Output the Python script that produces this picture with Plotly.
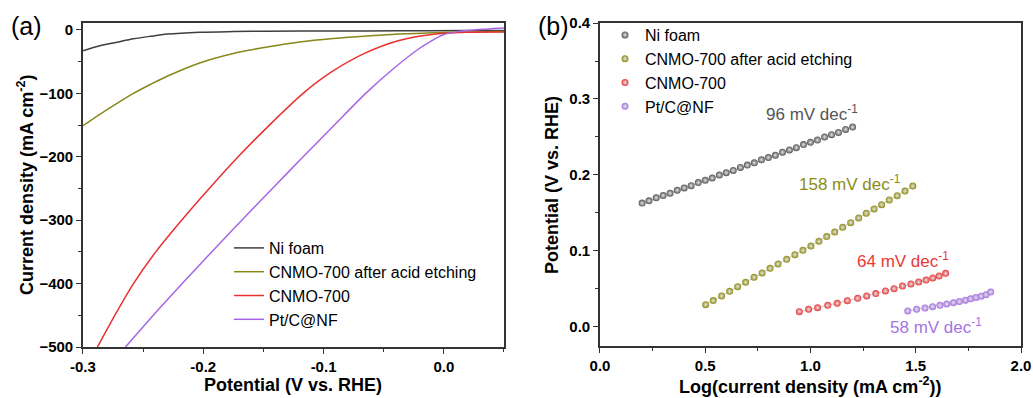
import plotly.graph_objects as go

FONT = "Arial, Liberation Sans, sans-serif"

# ---------------- Panel (a): LSV curves ----------------
ni_v = [-0.300, -0.286, -0.272, -0.258, -0.244, -0.230, -0.203, -0.175, -0.147, -0.092, -0.037, 0.018, 0.050]
ni_j = [-33, -25, -19.5, -14, -10, -6.5, -3.5, -2.5, -2.0, -1.6, -1.3, -1.0, -0.8]

etch_v = [-0.300, -0.286, -0.272, -0.258, -0.244, -0.230, -0.203, -0.175, -0.147, -0.120, -0.092, -0.064, -0.037, -0.009, 0.018, 0.050]
etch_j = [-151, -133, -116, -100, -86, -73, -52, -37, -27, -19, -13.5, -9.5, -6.5, -4.5, -3.2, -2.5]

cnmo_v = [-0.288, -0.2735, -0.258, -0.2395, -0.218, -0.195, -0.171, -0.145, -0.117, -0.094, -0.066, -0.038, -0.010, 0.018, 0.050]
cnmo_j = [-500, -450, -400, -350, -300, -250, -200, -150, -100, -67, -37, -17, -7, -3.5, -3]

pt_v = [-0.2646, -0.2415, -0.2175, -0.193, -0.168, -0.1425, -0.117, -0.091, -0.065, -0.040, -0.021, -0.011, -0.001, 0.010, 0.025, 0.050]
pt_j = [-500, -450, -400, -350, -300, -250, -200, -150, -100, -58, -30, -18, -8, -3, 0, 3]

# ---------------- Panel (b): Tafel plots ----------------
ni_logj = [0.200, 0.233, 0.267, 0.300, 0.333, 0.367, 0.400, 0.433, 0.467, 0.500, 0.533, 0.567, 0.600, 0.633,
           0.667, 0.700, 0.733, 0.767, 0.800, 0.833, 0.867, 0.900, 0.933, 0.967, 1.000, 1.033, 1.067, 1.100,
           1.133, 1.167, 1.200]
ni_eta = [0.163, 0.166, 0.170, 0.173, 0.176, 0.180, 0.183, 0.186, 0.190, 0.193, 0.196, 0.200, 0.203, 0.206,
          0.210, 0.213, 0.216, 0.220, 0.223, 0.226, 0.230, 0.233, 0.236, 0.240, 0.243, 0.246, 0.250, 0.253,
          0.256, 0.260, 0.263]

etch_logj = [0.502, 0.538, 0.578, 0.616, 0.654, 0.692, 0.732, 0.770, 0.808, 0.846, 0.887, 0.926, 0.964, 1.002,
             1.040, 1.077, 1.115, 1.153, 1.191, 1.229, 1.265, 1.302, 1.338, 1.374, 1.412, 1.449, 1.486]
etch_eta = [0.0294, 0.0347, 0.0408, 0.0469, 0.0531, 0.0588, 0.0654, 0.0711, 0.0772, 0.0829, 0.0890, 0.0952,
            0.1009, 0.1066, 0.1127, 0.1189, 0.1250, 0.1311, 0.1373, 0.1434, 0.1496, 0.1553, 0.1610, 0.1671,
            0.1728, 0.1789, 0.1855]

cnmo_logj = [0.947, 0.991, 1.034, 1.082, 1.127, 1.175, 1.224, 1.267, 1.310, 1.356, 1.397, 1.437, 1.477, 1.514,
             1.549, 1.581, 1.611, 1.642]
cnmo_eta = [0.0202, 0.0233, 0.0254, 0.0285, 0.0311, 0.0346, 0.0377, 0.0408, 0.0439, 0.0474, 0.0504, 0.0539,
            0.0566, 0.0592, 0.0618, 0.0645, 0.0671, 0.0706]

pt_logj = [1.462, 1.504, 1.544, 1.580, 1.615, 1.647, 1.679, 1.707, 1.736, 1.761, 1.786, 1.811, 1.834, 1.856]
pt_eta = [0.0211, 0.0233, 0.0250, 0.0267, 0.0285, 0.0303, 0.0320, 0.0335, 0.0353, 0.0370, 0.0388, 0.0405,
          0.0425, 0.0460]

names = ["Ni foam", "CNMO-700 after acid etching", "CNMO-700", "Pt/C@NF"]
line_colors = ["#3f3f3f", "#87871a", "#e8302f", "#a466e6"]
dot_colors = ["#555555", "#8c8c14", "#e83838", "#a673e3"]
tafel_labels = ["96 mV dec<sup>-1</sup>", "158 mV dec<sup>-1</sup>", "64 mV dec<sup>-1</sup>", "58 mV dec<sup>-1</sup>"]
tafel_label_x = [1.005, 1.19, 1.44, 1.595]
tafel_label_y = [0.282, 0.190, 0.088, 0.001]

lsv = [(ni_v, ni_j), (etch_v, etch_j), (cnmo_v, cnmo_j), (pt_v, pt_j)]
tafel = [(ni_logj, ni_eta), (etch_logj, etch_eta), (cnmo_logj, cnmo_eta), (pt_logj, pt_eta)]

fig = go.Figure()

for (v, j), name, c in zip(lsv, names, line_colors):
    fig.add_trace(go.Scatter(x=v, y=j, mode="lines", name=name,
                             line=dict(color=c, width=1.5, shape="spline", smoothing=0.8),
                             xaxis="x", yaxis="y", legend="legend"))

for (lx, ly), name in zip(tafel, names):
    fig.add_trace(go.Scatter(x=lx, y=ly, mode="lines", line=dict(color="#c8c8c8", width=1),
                             xaxis="x2", yaxis="y2", showlegend=False, hoverinfo="skip"))
for (lx, ly), name, c in zip(tafel, names, dot_colors):
    fig.add_trace(go.Scatter(x=lx, y=ly, mode="markers", name=name,
                             marker=dict(size=7, color=c, line=dict(width=0),
                                         gradient=dict(type="radial", color="#e6e6e6")),
                             xaxis="x2", yaxis="y2", legend="legend2"))

axis_common = dict(showline=True, linecolor="#333333", linewidth=1.5, mirror=True, ticks="outside",
                   ticklen=5, tickwidth=1.2, tickcolor="#333333", showgrid=False, zeroline=False,
                   automargin=False,
                   tickfont=dict(family=FONT, size=15, color="black", weight="bold"))

fig.update_layout(
    width=1033, height=398,
    margin=dict(l=0, r=0, t=0, b=0, autoexpand=False),
    paper_bgcolor="white", plot_bgcolor="white",
    font=dict(family=FONT, color="black"),
    xaxis=dict(domain=[0.0803, 0.4879], range=[-0.3, 0.05], tickvals=[-0.3, -0.2, -0.1, 0.0],
               ticktext=["-0.3", "-0.2", "-0.1", "0.0"],
               minor=dict(ticks="outside", ticklen=3, tickcolor="#333333", dtick=0.05, tick0=0), anchor="y",
               **axis_common),
    yaxis=dict(domain=[0.1281, 0.9422], range=[-500, 11], tickvals=[0, -100, -200, -300, -400, -500],
               minor=dict(ticks="outside", ticklen=3, tickcolor="#333333", dtick=50, tick0=0), anchor="x",
               **axis_common),
    xaxis2=dict(domain=[0.5808, 0.9884], range=[0, 2.0], tickvals=[0, 0.5, 1.0, 1.5, 2.0],
                ticktext=["0.0", "0.5", "1.0", "1.5", "2.0"],
                minor=dict(ticks="outside", ticklen=3, tickcolor="#333333", dtick=0.25, tick0=0), anchor="y2",
                **axis_common),
    yaxis2=dict(domain=[0.1307, 0.9422], range=[-0.025, 0.4], tickvals=[0, 0.1, 0.2, 0.3, 0.4],
                ticktext=["0.0", "0.1", "0.2", "0.3", "0.4"],
                minor=dict(ticks="outside", ticklen=3, tickcolor="#333333", dtick=0.05, tick0=0), anchor="x2",
                **axis_common),
    legend=dict(x=229 / 1033, y=1 - 231 / 398, xanchor="left", yanchor="top", bgcolor="rgba(0,0,0,0)",
                font=dict(family=FONT, size=16, color="black"), tracegroupgap=0),
    legend2=dict(x=605 / 1033, y=1 - 18 / 398, xanchor="left", yanchor="top", bgcolor="rgba(0,0,0,0)",
                 font=dict(family=FONT, size=16, color="black")),
)

ann = []
for t, x, y, c in zip(tafel_labels, tafel_label_x, tafel_label_y, dot_colors):
    ann.append(dict(text=t, x=x, y=y, xref="x2", yref="y2", showarrow=False,
                    xanchor="center", yanchor="middle", font=dict(family=FONT, size=17, color=c)))


def pann(text, px, py, size, angle=0):
    return dict(text=text, x=px / 1033, y=1 - py / 398, xref="paper", yref="paper", showarrow=False,
                xanchor="center", yanchor="middle", textangle=angle,
                font=dict(family=FONT, size=size, color="black"))


ann += [
    pann("(a)", 26, 26, 25),
    pann("(b)", 553, 26, 25),
    pann("<b>Potential (V vs. RHE)</b>", 293, 385, 18),
    pann("<b>Log(current density (mA cm<sup>-2</sup>))</b>", 810, 385, 18),
    pann("<b>Current density (mA cm<sup>-2</sup>)</b>", 26, 185, 18, -90),
    pann("<b>Potential (V vs. RHE)</b>", 552, 185, 18, -90),
]
fig.update_layout(annotations=ann)

fig.write_html("out.html", config={"displayModeBar": False},
               post_script="document.body.style.margin='0px';document.body.style.overflow='hidden';")
